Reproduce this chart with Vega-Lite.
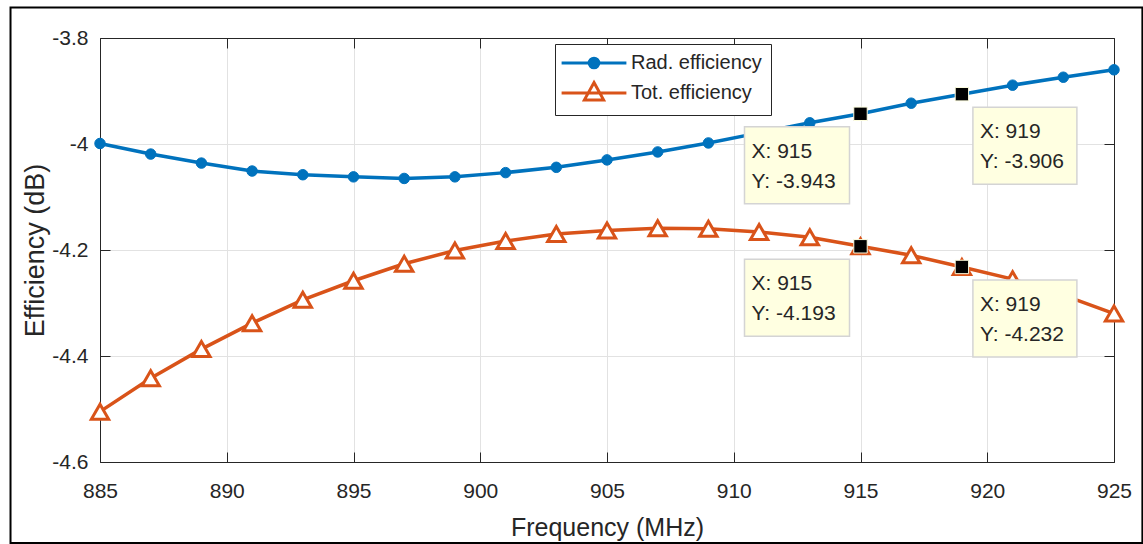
{
  "$schema": "https://vega.github.io/schema/vega-lite/v6.json",
  "width": 1014,
  "height": 424,
  "autosize": {"type": "none"},
  "padding": {"left": 100, "top": 38, "right": 29, "bottom": 82},
  "background": "white",
  "config": {
    "font": "Liberation Sans",
    "locale": {"number": {"decimal": ".", "thousands": ",", "grouping": [3], "currency": ["", ""], "minus": "-"}},
    "view": {"stroke": null},
    "axis": {
      "domainColor": "#262626",
      "domainWidth": 1,
      "tickColor": "#262626",
      "tickWidth": 1,
      "tickSize": -10,
      "labelColor": "#262626",
      "labelFont": "Liberation Sans",
      "labelFontSize": 21,
      "labelFlush": false,
      "labelOverlap": false,
      "gridColor": "#e2e2e2",
      "gridWidth": 1,
      "titleColor": "#262626",
      "titleFont": "Liberation Sans",
      "titleFontWeight": "normal"
    }
  },
  "datasets": {
    "efficiency": [
      {"freq": 885, "eff": -3.999, "series": "Rad. efficiency"},
      {"freq": 887, "eff": -4.019, "series": "Rad. efficiency"},
      {"freq": 889, "eff": -4.036, "series": "Rad. efficiency"},
      {"freq": 891, "eff": -4.051, "series": "Rad. efficiency"},
      {"freq": 893, "eff": -4.058, "series": "Rad. efficiency"},
      {"freq": 895, "eff": -4.062, "series": "Rad. efficiency"},
      {"freq": 897, "eff": -4.065, "series": "Rad. efficiency"},
      {"freq": 899, "eff": -4.062, "series": "Rad. efficiency"},
      {"freq": 901, "eff": -4.054, "series": "Rad. efficiency"},
      {"freq": 903, "eff": -4.044, "series": "Rad. efficiency"},
      {"freq": 905, "eff": -4.030, "series": "Rad. efficiency"},
      {"freq": 907, "eff": -4.015, "series": "Rad. efficiency"},
      {"freq": 909, "eff": -3.998, "series": "Rad. efficiency"},
      {"freq": 911, "eff": -3.979, "series": "Rad. efficiency"},
      {"freq": 913, "eff": -3.960, "series": "Rad. efficiency"},
      {"freq": 915, "eff": -3.943, "series": "Rad. efficiency"},
      {"freq": 917, "eff": -3.923, "series": "Rad. efficiency"},
      {"freq": 919, "eff": -3.906, "series": "Rad. efficiency"},
      {"freq": 921, "eff": -3.889, "series": "Rad. efficiency"},
      {"freq": 923, "eff": -3.874, "series": "Rad. efficiency"},
      {"freq": 925, "eff": -3.860, "series": "Rad. efficiency"},
      {"freq": 885, "eff": -4.505, "series": "Tot. efficiency"},
      {"freq": 887, "eff": -4.442, "series": "Tot. efficiency"},
      {"freq": 889, "eff": -4.387, "series": "Tot. efficiency"},
      {"freq": 891, "eff": -4.338, "series": "Tot. efficiency"},
      {"freq": 893, "eff": -4.294, "series": "Tot. efficiency"},
      {"freq": 895, "eff": -4.258, "series": "Tot. efficiency"},
      {"freq": 897, "eff": -4.226, "series": "Tot. efficiency"},
      {"freq": 899, "eff": -4.201, "series": "Tot. efficiency"},
      {"freq": 901, "eff": -4.183, "series": "Tot. efficiency"},
      {"freq": 903, "eff": -4.170, "series": "Tot. efficiency"},
      {"freq": 905, "eff": -4.163, "series": "Tot. efficiency"},
      {"freq": 907, "eff": -4.159, "series": "Tot. efficiency"},
      {"freq": 909, "eff": -4.160, "series": "Tot. efficiency"},
      {"freq": 911, "eff": -4.166, "series": "Tot. efficiency"},
      {"freq": 913, "eff": -4.176, "series": "Tot. efficiency"},
      {"freq": 915, "eff": -4.193, "series": "Tot. efficiency"},
      {"freq": 917, "eff": -4.210, "series": "Tot. efficiency"},
      {"freq": 919, "eff": -4.232, "series": "Tot. efficiency"},
      {"freq": 921, "eff": -4.255, "series": "Tot. efficiency"},
      {"freq": 923, "eff": -4.285, "series": "Tot. efficiency"},
      {"freq": 925, "eff": -4.320, "series": "Tot. efficiency"}
    ]
  },
  "data": {"name": "efficiency"},
  "encoding": {
    "x": {"field": "freq", "type": "quantitative", "scale": {"domain": [885, 925], "nice": false, "zero": false}, "axis": null},
    "y": {"field": "eff", "type": "quantitative", "scale": {"domain": [-4.6, -3.8], "nice": false, "zero": false}, "axis": null}
  },
  "layer": [
    {
      "data": {"values": [{"left": 881.47, "right": 926.12, "top": -3.7425, "bottom": -4.7528}]},
      "mark": {"type": "rect", "filled": false, "color": "black", "strokeWidth": 2, "opacity": 1, "clip": false},
      "encoding": {
        "x": {"field": "left", "type": "quantitative", "axis": null},
        "x2": {"field": "right"},
        "y": {"field": "top", "type": "quantitative", "axis": null},
        "y2": {"field": "bottom"}
      }
    },
    {
      "mark": {"type": "line", "strokeWidth": 3.5, "interpolate": "linear"},
      "encoding": {
        "x": {
          "field": "freq", "type": "quantitative",
          "axis": {
            "orient": "bottom", "values": [885, 890, 895, 900, 905, 910, 915, 920, 925], "format": "d",
            "grid": true, "labelPadding": 28,
            "title": "Frequency (MHz)", "titleFontSize": 25, "titleY": 73, "titleBaseline": "alphabetic"
          }
        },
        "y": {
          "field": "eff", "type": "quantitative",
          "axis": {
            "orient": "left", "values": [-4.6, -4.4, -4.2, -4, -3.8], "format": "~g",
            "grid": true, "labelPadding": 22,
            "title": "Efficiency (dB)", "titleFontSize": 27, "titleX": -57, "titleY": 212,
            "titleAngle": 270, "titleBaseline": "alphabetic", "titleAlign": "center"
          }
        },
        "color": {
          "field": "series", "type": "nominal",
          "scale": {"domain": ["Rad. efficiency", "Tot. efficiency"], "range": ["#0072BD", "#D95319"]},
          "legend": {
            "orient": "none", "legendX": 455, "legendY": 6, "title": null, "direction": "vertical",
            "padding": 9, "strokeColor": "#262626", "fillColor": "white", "cornerRadius": 0,
            "labelFont": "Liberation Sans", "labelFontSize": 20, "labelColor": "#262626",
            "symbolSize": 144, "symbolStrokeWidth": 3, "symbolOffset": 20, "labelOffset": 27, "rowPadding": 2,
            "encode": {
              "symbols": {
                "update": {
                  "shape": {"signal": "datum.value === 'Rad. efficiency' ? 'M-5.4,0L5.4,0M-0.8,0A0.8,0.8,0,1,1,0.8,0A0.8,0.8,0,1,1,-0.8,0Z' : 'M-5.4,0L5.4,0M0,-1.75L1.6,1.15L-1.6,1.15Z'"},
                  "fill": {"signal": "datum.value === 'Rad. efficiency' ? '#0072BD' : 'white'"},
                  "stroke": {"signal": "datum.value === 'Rad. efficiency' ? '#0072BD' : '#D95319'"},
                  "strokeWidth": {"value": 3},
                  "opacity": {"value": 1}
                }
              }
            }
          }
        }
      }
    },
    {
      "transform": [{"filter": "datum.series === 'Rad. efficiency'"}],
      "mark": {"type": "point", "shape": "circle", "filled": true, "size": 110, "color": "#0072BD", "stroke": "#0072BD", "strokeWidth": 1, "opacity": 1},
      "encoding": {
        "x": {"field": "freq", "type": "quantitative", "axis": {"orient": "top", "values": [885, 890, 895, 900, 905, 910, 915, 920, 925], "labels": false, "grid": false, "title": null}},
        "y": {"field": "eff", "type": "quantitative", "axis": {"orient": "right", "values": [-4.6, -4.4, -4.2, -4, -3.8], "labels": false, "grid": false, "title": null}}
      }
    },
    {
      "transform": [{"filter": "datum.series === 'Tot. efficiency'"}],
      "mark": {"type": "point", "shape": "triangle-up", "filled": true, "size": 300, "fill": "white", "stroke": "#D95319", "strokeWidth": 3, "opacity": 1}
    },
    {
      "transform": [{"filter": "datum.freq === 915 || datum.freq === 919"}],
      "mark": {"type": "point", "shape": "square", "filled": true, "size": 180, "fill": "black", "stroke": "#FFFFE1", "strokeWidth": 1, "opacity": 1}
    },
    {
      "transform": [{"filter": "datum.freq === 915"}],
      "mark": {"type": "rect", "fill": "#FFFFE1", "stroke": "#D4D4D4", "strokeWidth": 1.5, "xOffset": -116, "x2Offset": -11, "yOffset": 13, "y2Offset": 90},
      "encoding": {"x2": {"field": "freq"}, "y2": {"field": "eff"}}
    },
    {
      "transform": [{"filter": "datum.freq === 919"}],
      "mark": {"type": "rect", "fill": "#FFFFE1", "stroke": "#D4D4D4", "strokeWidth": 1.5, "xOffset": 11, "x2Offset": 115, "yOffset": 13, "y2Offset": 90},
      "encoding": {"x2": {"field": "freq"}, "y2": {"field": "eff"}}
    },
    {
      "transform": [
        {"filter": "datum.freq === 915"},
        {"calculate": "'X: ' + datum.freq", "as": "tipX"},
        {"calculate": "'Y: ' + replace(format(datum.eff, '.3f'), '\u2212', '-')", "as": "tipY"}
      ],
      "layer": [
        {
          "mark": {"type": "text", "align": "left", "baseline": "middle", "dx": -109, "dy": 38, "fontSize": 21, "color": "#262626"},
          "encoding": {"text": {"field": "tipX"}}
        },
        {
          "mark": {"type": "text", "align": "left", "baseline": "middle", "dx": -109, "dy": 68, "fontSize": 21, "color": "#262626"},
          "encoding": {"text": {"field": "tipY"}}
        }
      ]
    },
    {
      "transform": [
        {"filter": "datum.freq === 919"},
        {"calculate": "'X: ' + datum.freq", "as": "tipX"},
        {"calculate": "'Y: ' + replace(format(datum.eff, '.3f'), '\u2212', '-')", "as": "tipY"}
      ],
      "layer": [
        {
          "mark": {"type": "text", "align": "left", "baseline": "middle", "dx": 18, "dy": 38, "fontSize": 21, "color": "#262626"},
          "encoding": {"text": {"field": "tipX"}}
        },
        {
          "mark": {"type": "text", "align": "left", "baseline": "middle", "dx": 18, "dy": 68, "fontSize": 21, "color": "#262626"},
          "encoding": {"text": {"field": "tipY"}}
        }
      ]
    }
  ],
  "resolve": {"axis": {"x": "independent", "y": "independent"}}
}
